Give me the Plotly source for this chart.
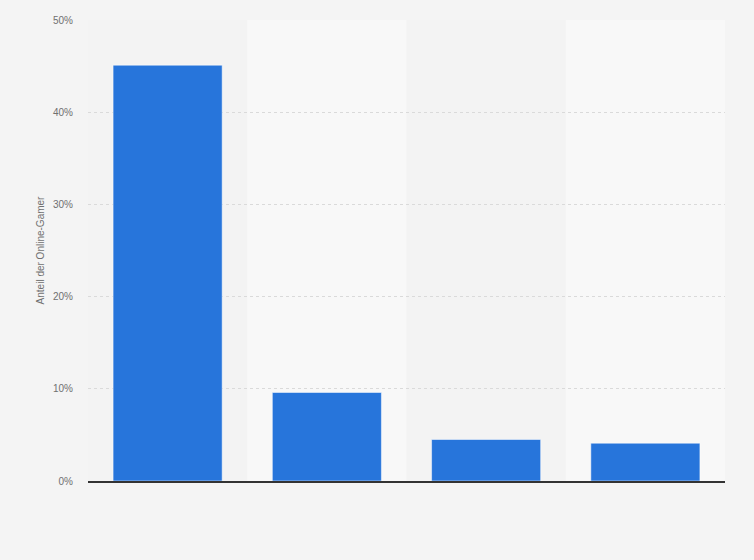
import plotly.graph_objects as go

categories = ["Kategorie 1", "Kategorie 2", "Kategorie 3", "Kategorie 4"]
shares = [45.1, 9.6, 4.5, 4.1]
y_ticks = [0, 10, 20, 30, 40, 50]
y_tick_labels = ["0%", "10%", "20%", "30%", "40%", "50%"]

fig = go.Figure()
fig.add_trace(
    go.Bar(
        x=categories,
        y=shares,
        marker=dict(color="#2775db", line=dict(color="rgba(255,255,255,0.5)", width=1)),
        hoverinfo="x+y",
    )
)

# alternating light column bands behind the bars
shapes = []
for i in range(len(categories)):
    shapes.append(dict(
        type="rect", xref="x", yref="paper",
        x0=i - 0.5, x1=i + 0.5, y0=0, y1=1,
        fillcolor="#f3f3f3" if i % 2 == 0 else "#f8f8f8",
        line=dict(width=0), layer="below",
    ))

fig.update_layout(
    width=754,
    height=560,
    margin=dict(l=88, r=29, t=20, b=79),
    paper_bgcolor="#f4f4f4",
    plot_bgcolor="#f4f4f4",
    bargap=0.315,
    showlegend=False,
    shapes=shapes,
    font=dict(family="Liberation Sans, Arial, sans-serif", size=10, color="#707070"),
    xaxis=dict(
        showticklabels=False,
        showgrid=False,
        showline=True,
        linecolor="#333333",
        linewidth=1.5,
        range=[-0.5, 3.5],
    ),
    yaxis=dict(
        range=[0, 50],
        tickvals=y_ticks,
        ticktext=y_tick_labels,
        showgrid=True,
        gridcolor="#dadada",
        griddash="dot",
        gridwidth=1,
        zeroline=False,
        ticks="",
        ticklabelstandoff=14,
        title=dict(text="Anteil der Online-Gamer", standoff=6, font=dict(size=10, color="#707070")),
    ),
)

# drop the default page margin so the chart fills the window
fig.write_html(
    "out.html",
    config={"displayModeBar": False},
    post_script="document.body.style.margin='0';document.body.style.background='#f4f4f4';",
)
